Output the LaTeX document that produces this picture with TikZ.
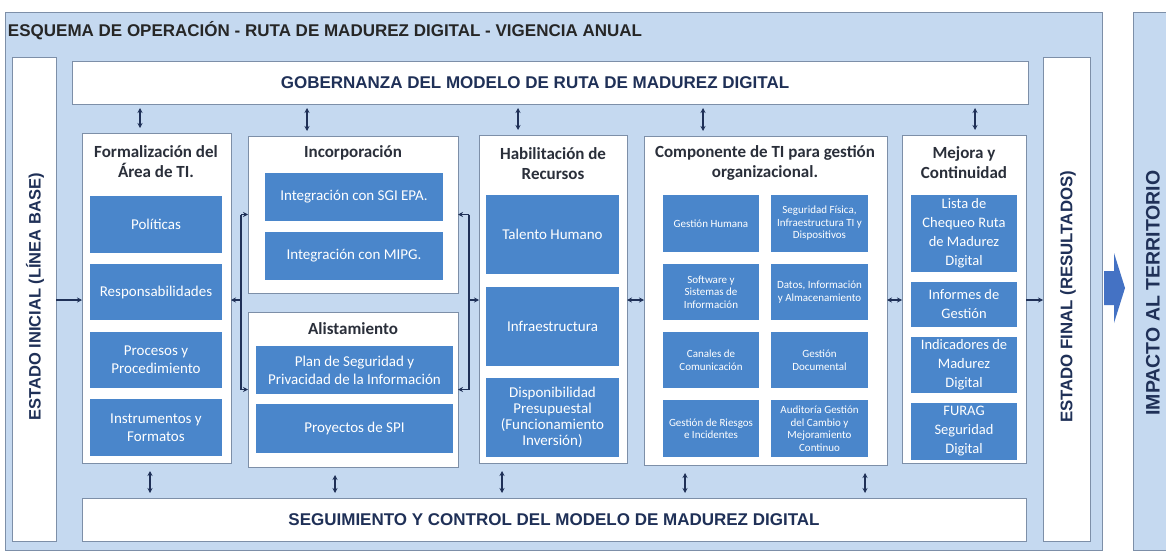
\documentclass[tikz,border=0pt]{standalone}
\usepackage{fontspec}
\setmainfont{Carlito}
\newfontfamily\capfont{Liberation Sans}
\usetikzlibrary{arrows.meta,calc}
\definecolor{bgblue}{HTML}{C5D9F0}
\definecolor{boxblue}{HTML}{4A86CB}
\definecolor{edgecol}{HTML}{7D8FA8}
\definecolor{navy}{HTML}{1F3057}
\definecolor{ttl}{HTML}{2A2F3A}
\definecolor{arrblue}{HTML}{4472C4}
\begin{document}
\begin{tikzpicture}[x=1pt,y=-1pt,
 every node/.style={inner sep=0pt, outer sep=0pt},
 panel/.style={draw=edgecol, fill=white, line width=0.9pt, anchor=north west},
 frame/.style={draw=edgecol, fill=bgblue, line width=1pt, anchor=north west},
 captxt/.style={font=\capfont\bfseries\fontsize{17}{20}\selectfont, text=navy},
 ptitle/.style={font=\bfseries\fontsize{17}{20}\selectfont, text=ttl, align=center},
 bbox/.style={fill=boxblue, text=white, align=center, anchor=north west, font=\fontsize{15}{18}\selectfont},
 sbox/.style={fill=boxblue, text=white, align=center, anchor=north west, font=\fontsize{11}{12.5}\selectfont},
 tip/.style={-{Stealth[length=5pt,width=5pt]}, line width=1.3pt, draw=navy},
 dtip/.style={{Stealth[length=5pt,width=5pt]}-{Stealth[length=5pt,width=5pt]}, line width=1.3pt, draw=navy},
 ]
\useasboundingbox (0,0) rectangle (1166,554);
\fill[white] (0,0) rectangle (1166,554);
% outer frame
\node[frame, minimum width=1097, minimum height=538] (main) at (5,12) {};
\fill[bgblue] (1133,12) rectangle (1166,550);
\draw[edgecol, line width=1pt] (1166,12) -- (1133,12) -- (1133,550) -- (1166,550);
\node[captxt, rotate=90, font=\capfont\bfseries\fontsize{19.5}{22}\selectfont] (imp) at (1153,293) {IMPACTO AL TERRITORIO};
\fill[arrblue] (1104,271) -- (1114,271) -- (1114,253) -- (1125,288) -- (1114,323) -- (1114,305) -- (1104,305) -- cycle;
% title
\node[captxt, anchor=west, text=black!85] (title) at (8,31) {ESQUEMA DE OPERACIÓN - RUTA DE MADUREZ DIGITAL - VIGENCIA ANUAL};
% side boxes
\node[panel, minimum width=44, minimum height=484] (ini) at (12,57) {};
\node[captxt, rotate=90, font=\capfont\bfseries\fontsize{16.5}{20}\selectfont] (initxt) at (35,297) {ESTADO INICIAL (LÍNEA BASE)};
\node[panel, minimum width=47, minimum height=484] (fin) at (1043,57) {};
\node[captxt, rotate=90, font=\capfont\bfseries\fontsize{16.8}{20}\selectfont] (fintxt) at (1068,297) {ESTADO FINAL (RESULTADOS)};
% governance / follow-up
\node[panel, minimum width=956, minimum height=43] (gov) at (72,61) {};
\node[captxt] (govtxt) at (535,83) {GOBERNANZA DEL MODELO DE RUTA DE MADUREZ DIGITAL};
\node[panel, minimum width=944, minimum height=43] (seg) at (82,498) {};
\node[captxt] (segtxt) at (554,520) {SEGUIMIENTO Y CONTROL DEL MODELO DE MADUREZ DIGITAL};
% panels
\node[panel, minimum width=149, minimum height=330] (form) at (82,133) {};
\node[ptitle] (formt) at (156,162) {Formalización del\\Área de TI.};
\node[bbox, minimum width=132, minimum height=57] (f1) at (90,196) {Políticas};
\node[bbox, minimum width=132, minimum height=56] (f2) at (90,264) {Responsabilidades};
\node[bbox, minimum width=132, minimum height=56] (f3) at (90,332) {Procesos y\\Procedimiento};
\node[bbox, minimum width=132, minimum height=57] (f4) at (90,399) {Instrumentos y\\Formatos};

\node[panel, minimum width=210, minimum height=157] (inc) at (248,136) {};
\node[ptitle] (inct) at (353,153) {Incorporación};
\node[bbox, minimum width=178, minimum height=48] (i1) at (265,173) {Integración con SGI EPA.};
\node[bbox, minimum width=178, minimum height=48] (i2) at (265,232) {Integración con MIPG.};

\node[panel, minimum width=210, minimum height=155] (ali) at (248,312) {};
\node[ptitle] (alit) at (353,329) {Alistamiento};
\node[bbox, minimum width=197, minimum height=48] (a1) at (256,346) {Plan de Seguridad y\\Privacidad de la Información};
\node[bbox, minimum width=197, minimum height=49] (a2) at (256,404) {Proyectos de SPI};

\node[panel, minimum width=148, minimum height=328] (hab) at (479,135) {};
\node[ptitle] (habt) at (553,164) {Habilitación de\\Recursos};
\node[bbox, minimum width=133, minimum height=79] (h1) at (486,195) {Talento Humano};
\node[bbox, minimum width=133, minimum height=79] (h2) at (486,287) {Infraestructura};
\node[bbox, minimum width=133, minimum height=79, font=\fontsize{15}{16}\selectfont] (h3) at (486,378) {Disponibilidad\\Presupuestal\\(Funcionamiento\\Inversión)};

\node[panel, minimum width=243, minimum height=329] (comp) at (644,136) {};
\node[ptitle] (compt) at (765,163) {Componente de TI para gestión\\organizacional.};
\node[sbox, minimum width=96, minimum height=57] (c1) at (663,195) {Gestión Humana};
\node[sbox, minimum width=97, minimum height=57] (c2) at (771,195) {Seguridad Física,\\Infraestructura TI y\\Dispositivos};
\node[sbox, minimum width=96, minimum height=56] (c3) at (663,264) {Software y\\Sistemas de\\Información};
\node[sbox, minimum width=97, minimum height=56] (c4) at (771,264) {Datos, Información\\y Almacenamiento};
\node[sbox, minimum width=96, minimum height=56] (c5) at (663,332) {Canales de\\Comunicación};
\node[sbox, minimum width=97, minimum height=56] (c6) at (771,332) {Gestión\\Documental};
\node[sbox, minimum width=96, minimum height=57] (c7) at (663,400) {Gestión de Riesgos\\e Incidentes};
\node[sbox, minimum width=97, minimum height=57] (c8) at (771,400) {Auditoría Gestión\\del Cambio y\\Mejoramiento\\Continuo};

\node[panel, minimum width=124, minimum height=328] (mej) at (902,135) {};
\node[ptitle] (mejt) at (964,163) {Mejora y\\Continuidad};
\node[bbox, minimum width=106, minimum height=77, font=\fontsize{14.5}{19}\selectfont] (m1) at (911,195) {Lista de\\Chequeo Ruta\\de Madurez\\Digital};
\node[bbox, minimum width=106, minimum height=45, font=\fontsize{14.5}{19}\selectfont] (m2) at (911,282) {Informes de\\Gestión};
\node[bbox, minimum width=106, minimum height=56, font=\fontsize{14.5}{19}\selectfont] (m3) at (911,337) {Indicadores de\\Madurez\\Digital};
\node[bbox, minimum width=106, minimum height=57, font=\fontsize{14.5}{19}\selectfont] (m4) at (911,403) {FURAG\\Seguridad\\Digital};

% horizontal connectors
\draw[tip] (ini.east |- 0,300) -- (form.west |- 0,300);
\coordinate (bl) at (241,300);
\draw[navy, line width=1.3pt] (bl |- inc.west) -- (bl |- ali.west);
\draw[tip] (bl |- inc.west) -- (inc.west);
\draw[tip] (bl |- ali.west) -- (ali.west);
\draw[tip] (bl) -- (bl -| form.east);
\coordinate (br) at (469,300);
\draw[navy, line width=1.3pt] (br |- inc.east) -- (br |- ali.east);
\draw[tip] (br |- inc.east) -- (inc.east);
\draw[tip] (br |- ali.east) -- (ali.east);
\draw[tip] (br) -- (br -| hab.west);
\draw[dtip] (hab.east |- 0,300) -- (comp.west |- 0,300);
\draw[dtip] (comp.east |- 0,300) -- (mej.west |- 0,300);
\draw[tip] (mej.east |- 0,300) -- (fin.west |- 0,300);
% vertical connectors
\foreach \xx/\nn in {140/form,307/inc,518/hab,703/comp,975/mej}
  \draw[dtip, shorten <=4pt, shorten >=5pt] (gov.south -| \xx,0) -- (\nn.north -| \xx,0);
\foreach \xx/\nn in {150/form,335/ali,502/hab,685/comp,865/comp}
  \draw[dtip, shorten <=8pt, shorten >=5pt] (\nn.south -| \xx,0) -- (seg.north -| \xx,0);
\end{tikzpicture}
\end{document}
